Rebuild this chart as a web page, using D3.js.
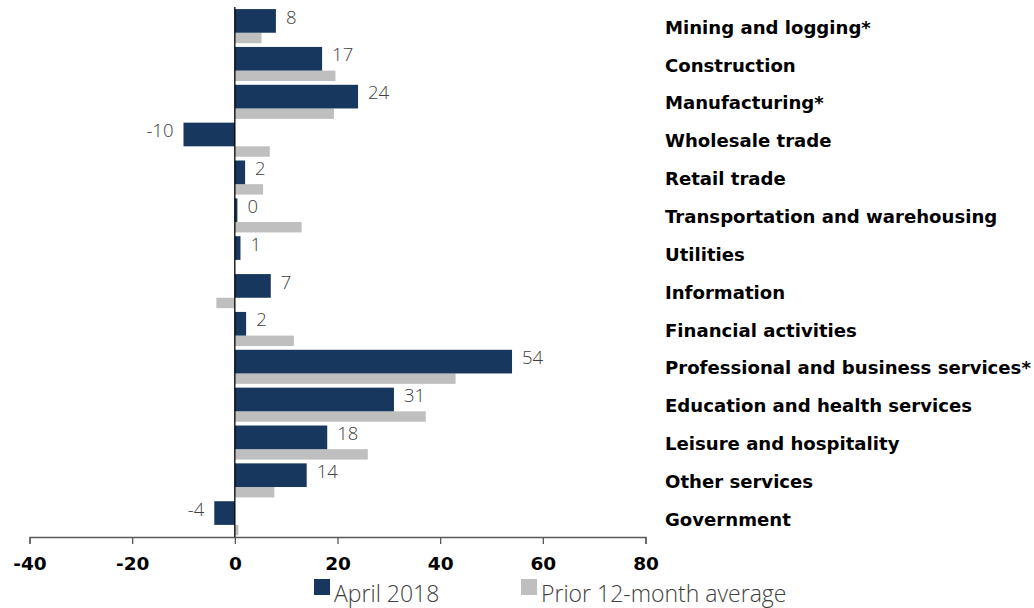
<!DOCTYPE html>
<html><head><meta charset="utf-8">
<script src="https://cdn.jsdelivr.net/npm/d3@7"></script>
<style>body{margin:0;background:#fff}svg{display:block}</style>
</head><body><svg id="c" width="1034" height="608"></svg>
<script>
const categories = ["Mining and logging*","Construction","Manufacturing*","Wholesale trade","Retail trade","Transportation and warehousing","Utilities","Information","Financial activities","Professional and business services*","Education and health services","Leisure and hospitality","Other services","Government"];
const april2018 = [8,17,24,-10,2,0.5,1.1,7,2.2,54,31,18,14,-4];
const aprilLabels = ["8","17","24","-10","2","0","1","7","2","54","31","18","14","-4"];
const prior12 = [5.2,19.6,19.3,6.8,5.5,13.0,0,-3.6,11.5,43,37.2,25.9,7.7,0.7];
const xTicks = [-40,-20,0,20,40,60,80];
const seriesNames = ["April 2018","Prior 12-month average"];
const colors = ["#17375E","#BFBFBF"];

const svg = d3.select("#c");
const x = d3.scaleLinear().domain([-40,80]).range([29.5,645.5]);
const y = d3.scaleBand().domain(categories).range([7,537]).padding(0);
const bw = y.bandwidth();

// bars
svg.selectAll("rect.prior").data(categories).join("rect")
  .attr("x",(d,i)=>Math.min(x(0),x(prior12[i])))
  .attr("width",(d,i)=>Math.abs(x(prior12[i])-x(0)))
  .attr("y",d=>y(d)+bw*0.68).attr("height",bw*0.275)
  .attr("fill",colors[1]);
svg.selectAll("rect.apr").data(categories).join("rect")
  .attr("x",(d,i)=>Math.min(x(0),x(april2018[i])))
  .attr("width",(d,i)=>Math.abs(x(april2018[i])-x(0)))
  .attr("y",d=>y(d)+bw*0.055).attr("height",bw*0.625)
  .attr("fill",colors[0]);

// data labels
svg.selectAll("text.lbl").data(categories).join("text")
  .attr("x",(d,i)=> april2018[i]>=0 ? x(april2018[i])+10 : x(april2018[i])-10)
  .attr("y",d=>y(d)+bw*0.055+8)
  .attr("dy","0.35em")
  .attr("text-anchor",(d,i)=>april2018[i]>=0?"start":"end")
  .attr("font-family","'Open Sans', sans-serif").attr("font-weight",300)
  .attr("font-size",18.5).attr("fill","#404040")
  .text((d,i)=>aprilLabels[i]);

// category labels
svg.selectAll("text.cat").data(categories).join("text")
  .attr("x",665).attr("y",d=>y(d)+bw/2+1.5).attr("dy","0.35em")
  .attr("font-family","'DejaVu Sans', Verdana, sans-serif").attr("font-weight","bold")
  .attr("font-size",18.1).attr("fill","#000").text(d=>d);

// x axis
const ax = svg.append("g").attr("transform","translate(0,537)")
  .call(d3.axisBottom(x).tickValues(xTicks).tickSize(7).tickPadding(13).tickFormat(d=>String(d)));
ax.select(".domain").attr("stroke","#595959").attr("stroke-width",1.3);
ax.selectAll(".tick line").attr("stroke","#595959").attr("stroke-width",1.3);
ax.selectAll(".tick text").attr("font-family","'DejaVu Sans', Verdana, sans-serif")
  .attr("font-weight","bold").attr("font-size",18.5).attr("fill","#000");

// vertical zero line
svg.append("line").attr("x1",x(0)).attr("x2",x(0)).attr("y1",7).attr("y2",537)
  .attr("stroke","#000").attr("stroke-width",1.3);

// legend
const leg = [{x:314,name:seriesNames[0],c:colors[0]},{x:521,name:seriesNames[1],c:colors[1]}];
leg.forEach(l=>{
  svg.append("rect").attr("x",l.x).attr("y",579).attr("width",16).attr("height",16).attr("fill",l.c);
  svg.append("text").attr("x",l.x+20).attr("y",602)
    .attr("font-family","'Open Sans', sans-serif").attr("font-weight",300)
    .attr("font-size",23).attr("fill","#404040").text(l.name);
});
</script></body></html>
